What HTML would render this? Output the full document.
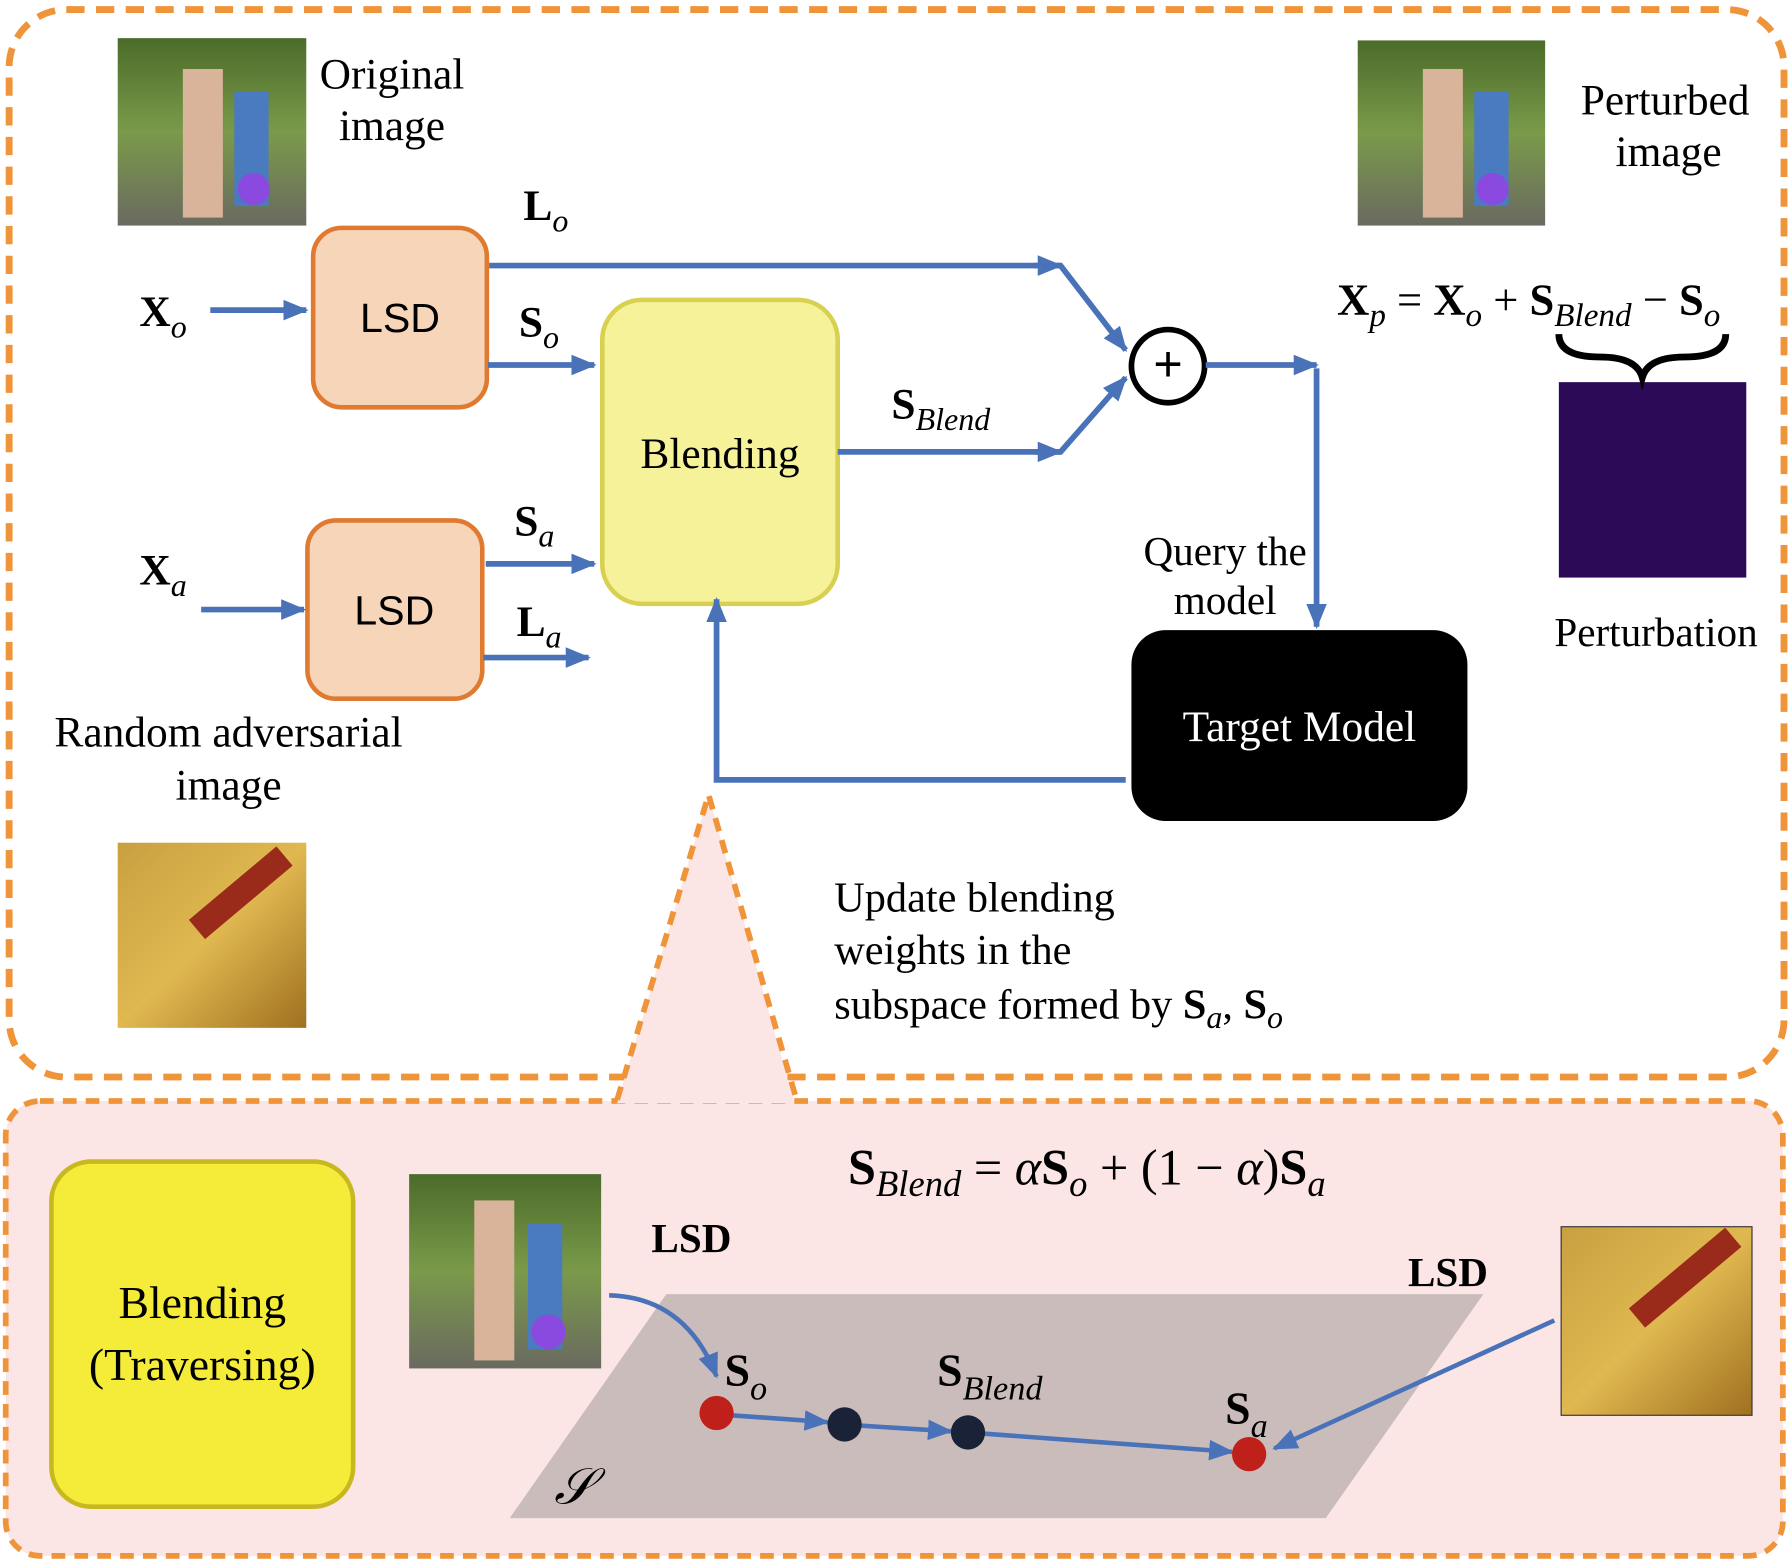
<!DOCTYPE html>
<html><head><meta charset="utf-8"><style>html,body{margin:0;padding:0;background:#fff}svg{display:block}</style></head>
<body>
<svg width="1792" height="1562" viewBox="0 0 1568 1366" xmlns="http://www.w3.org/2000/svg" font-family="Liberation Serif, serif">
<defs>
<marker id="ar" markerWidth="24" markerHeight="20" refX="20" refY="10" orient="auto" markerUnits="userSpaceOnUse"><path d="M0,1 L22,10 L0,19 z" fill="#4a72b8"/></marker>
<linearGradient id="kid" x1="0" y1="0" x2="0" y2="1"><stop offset="0" stop-color="#4b6b2a"/><stop offset="0.5" stop-color="#7a9a4a"/><stop offset="1" stop-color="#6a6a60"/></linearGradient>
<linearGradient id="fry" x1="0" y1="0" x2="1" y2="1"><stop offset="0" stop-color="#c8a040"/><stop offset="0.5" stop-color="#e0b850"/><stop offset="1" stop-color="#a07020"/></linearGradient>
</defs>
<rect x="8" y="8" width="1553" height="934" rx="50" fill="#fff" stroke="#f0943a" stroke-width="6" stroke-dasharray="16,10"/>
<rect x="5" y="963" width="1555" height="398" rx="30" fill="#fbe5e5" stroke="#f0943a" stroke-width="5" stroke-dasharray="12,8"/>
<polygon points="620,695 540,965 695,965" fill="#fbe5e5"/>
<polyline points="540,962 620,695 697,962" fill="none" stroke="#f0943a" stroke-width="5" stroke-dasharray="12,8"/>

<g>
<rect x="103" y="33" width="165" height="164" fill="url(#kid)"/>
<rect x="160" y="60" width="35" height="130" fill="#d9b49a"/><rect x="205" y="80" width="30" height="100" fill="#4a7ac0"/><circle cx="222" cy="165" r="14" fill="#8a4ae0"/>
<rect x="1188" y="35" width="164" height="162" fill="url(#kid)"/>
<rect x="1245" y="60" width="35" height="130" fill="#d9b49a"/><rect x="1290" y="80" width="30" height="100" fill="#4a7ac0"/><circle cx="1306" cy="165" r="14" fill="#8a4ae0"/>
<rect x="103" y="737" width="165" height="162" fill="url(#fry)"/>
<rect x="160" y="770" width="100" height="22" fill="#9a2a1a" transform="rotate(-40 210 780)"/>
<rect x="1364" y="334" width="164" height="171" fill="#2c0a58"/>
<rect x="358" y="1027" width="168" height="170" fill="url(#kid)"/>
<rect x="415" y="1050" width="35" height="140" fill="#d9b49a"/><rect x="462" y="1070" width="30" height="110" fill="#4a7ac0"/><circle cx="480" cy="1165" r="15" fill="#8a4ae0"/>
<rect x="1366" y="1073" width="167" height="165" fill="url(#fry)" stroke="#333" stroke-width="1"/>
<rect x="1420" y="1110" width="110" height="22" fill="#9a2a1a" transform="rotate(-40 1470 1120)"/>
</g>

<g font-size="38" fill="#000">
<text x="343" y="77" text-anchor="middle">Original</text>
<text x="343" y="122" text-anchor="middle">image</text>
<text x="1457" y="100" text-anchor="middle">Perturbed</text>
<text x="1460" y="145" text-anchor="middle">image</text>
<text x="200" y="653" text-anchor="middle">Random adversarial</text>
<text x="200" y="699" text-anchor="middle">image</text>
<text x="1449" y="565" text-anchor="middle" font-size="36">Perturbation</text>
<text x="1072" y="494" text-anchor="middle" font-size="36">Query the</text>
<text x="1072" y="537" text-anchor="middle" font-size="36">model</text>
<text x="730" y="797" font-size="37">Update blending</text>
<text x="730" y="843" font-size="37">weights in the</text>
<text x="730" y="891" font-size="37">subspace formed by <tspan font-weight="bold">S</tspan><tspan font-style="italic" font-size="28" dy="8">a</tspan><tspan dy="-8">, </tspan><tspan font-weight="bold">S</tspan><tspan font-style="italic" font-size="28" dy="8">o</tspan></text>
</g>

<rect x="274" y="199" width="152" height="157" rx="25" fill="#f6d5b8" stroke="#e07a30" stroke-width="4"/>
<text x="350" y="290" text-anchor="middle" font-family="Liberation Sans, sans-serif" font-size="36">LSD</text>
<rect x="269" y="455" width="153" height="156" rx="25" fill="#f6d5b8" stroke="#e07a30" stroke-width="4"/>
<text x="345" y="546" text-anchor="middle" font-family="Liberation Sans, sans-serif" font-size="36">LSD</text>
<rect x="527" y="262" width="206" height="266" rx="35" fill="#f5f299" stroke="#d8d050" stroke-width="4"/>
<text x="630" y="409" text-anchor="middle" font-size="38">Blending</text>
<rect x="990" y="551" width="294" height="167" rx="30" fill="#000"/>
<text x="1137" y="648" text-anchor="middle" font-size="38" fill="#fff">Target Model</text>
<circle cx="1022" cy="320" r="32" fill="#fff" stroke="#000" stroke-width="5"/>
<text x="1022" y="333" text-anchor="middle" font-size="44" font-family="Liberation Sans, sans-serif">+</text>

<g stroke="#4a72b8" stroke-width="5" fill="none">
<line x1="184" y1="271" x2="268" y2="271" marker-end="url(#ar)"/>
<line x1="176" y1="533" x2="266" y2="533" marker-end="url(#ar)"/>
<line x1="427" y1="319" x2="520" y2="319" marker-end="url(#ar)"/>
<line x1="425" y1="493" x2="520" y2="493" marker-end="url(#ar)"/>
<line x1="423" y1="575" x2="515" y2="575" marker-end="url(#ar)"/>
<polyline points="428,232 928,232 985,306" marker-end="url(#ar)"/>
<polyline points="733,395 928,395 985,330" marker-end="url(#ar)"/>
<line x1="1055" y1="319" x2="1152" y2="319" marker-end="url(#ar)"/>
<line x1="1152" y1="322" x2="1152" y2="548" marker-end="url(#ar)"/>
<polyline points="985,682 627,682 627,524" marker-end="url(#ar)"/>
</g>
<line x1="905" y1="232" x2="928" y2="232" stroke="#4a72b8" stroke-width="5" marker-end="url(#ar)"/>
<line x1="905" y1="395" x2="928" y2="395" stroke="#4a72b8" stroke-width="5" marker-end="url(#ar)"/>

<g font-size="38">
<text x="122" y="285" font-weight="bold">X<tspan font-style="italic" font-weight="normal" font-size="28" dy="10">o</tspan></text>
<text x="122" y="511" font-weight="bold">X<tspan font-style="italic" font-weight="normal" font-size="28" dy="10">a</tspan></text>
<text x="458" y="192" font-weight="bold">L<tspan font-style="italic" font-weight="normal" font-size="28" dy="10">o</tspan></text>
<text x="454" y="294" font-weight="bold">S<tspan font-style="italic" font-weight="normal" font-size="28" dy="10">o</tspan></text>
<text x="450" y="468" font-weight="bold">S<tspan font-style="italic" font-weight="normal" font-size="28" dy="10">a</tspan></text>
<text x="452" y="556" font-weight="bold">L<tspan font-style="italic" font-weight="normal" font-size="28" dy="10">a</tspan></text>
<text x="780" y="366" font-weight="bold">S<tspan font-style="italic" font-weight="normal" font-size="28" dy="10">Blend</tspan></text>
<text x="1170" y="275" font-size="39"><tspan font-weight="bold">X</tspan><tspan font-style="italic" font-size="29" dy="10">p</tspan><tspan dy="-10"> = </tspan><tspan font-weight="bold">X</tspan><tspan font-style="italic" font-size="29" dy="10">o</tspan><tspan dy="-10"> + </tspan><tspan font-weight="bold">S</tspan><tspan font-style="italic" font-size="29" dy="10">Blend</tspan><tspan dy="-10"> − </tspan><tspan font-weight="bold">S</tspan><tspan font-style="italic" font-size="29" dy="10">o</tspan></text>
</g>
<path d="M1364,292 Q1364,312 1400,312 Q1432,312 1437,330 Q1442,312 1474,312 Q1510,312 1510,292" fill="none" stroke="#000" stroke-width="6"/>

<rect x="45" y="1016" width="264" height="302" rx="35" fill="#f5ec3a" stroke="#c8b820" stroke-width="4"/>
<text x="177" y="1153" text-anchor="middle" font-size="40">Blending</text>
<text x="177" y="1207" text-anchor="middle" font-size="40">(Traversing)</text>
<polygon points="583,1132 1298,1132 1160,1328 446,1328" fill="#cbbcbc"/>
<text x="485" y="1315" font-size="44" font-style="italic">𝒮</text>
<text x="742" y="1036" font-size="44"><tspan font-weight="bold">S</tspan><tspan font-style="italic" font-size="32" dy="10">Blend</tspan><tspan dy="-10"> = </tspan><tspan font-style="italic">α</tspan><tspan font-weight="bold">S</tspan><tspan font-style="italic" font-size="32" dy="10">o</tspan><tspan dy="-10"> + (1 − </tspan><tspan font-style="italic">α</tspan><tspan>)</tspan><tspan font-weight="bold">S</tspan><tspan font-style="italic" font-size="32" dy="10">a</tspan></text>
<text x="570" y="1095" font-size="36" font-weight="bold">LSD</text>
<text x="1232" y="1125" font-size="36" font-weight="bold">LSD</text>
<text x="634" y="1212" font-size="40" font-weight="bold">S<tspan font-style="italic" font-weight="normal" font-size="30" dy="12">o</tspan></text>
<text x="820" y="1212" font-size="40" font-weight="bold">S<tspan font-style="italic" font-weight="normal" font-size="30" dy="12">Blend</tspan></text>
<text x="1072" y="1245" font-size="40" font-weight="bold">S<tspan font-style="italic" font-weight="normal" font-size="30" dy="12">a</tspan></text>
<g stroke="#4a72b8" stroke-width="4" fill="none">
<path d="M533,1133 Q600,1135 627,1204" marker-end="url(#ar)"/>
<line x1="1360" y1="1155" x2="1115" y2="1267" marker-end="url(#ar)"/>
<line x1="640" y1="1238" x2="724" y2="1244" marker-end="url(#ar)"/>
<line x1="752" y1="1247" x2="832" y2="1252" marker-end="url(#ar)"/>
<line x1="860" y1="1254" x2="1078" y2="1270" marker-end="url(#ar)"/>
</g>
<circle cx="627" cy="1236" r="15" fill="#c0201a"/>
<circle cx="739" cy="1246" r="15" fill="#1a2238"/>
<circle cx="847" cy="1253" r="15" fill="#1a2238"/>
<circle cx="1093" cy="1272" r="15" fill="#c0201a"/>
</svg>
</body></html>
